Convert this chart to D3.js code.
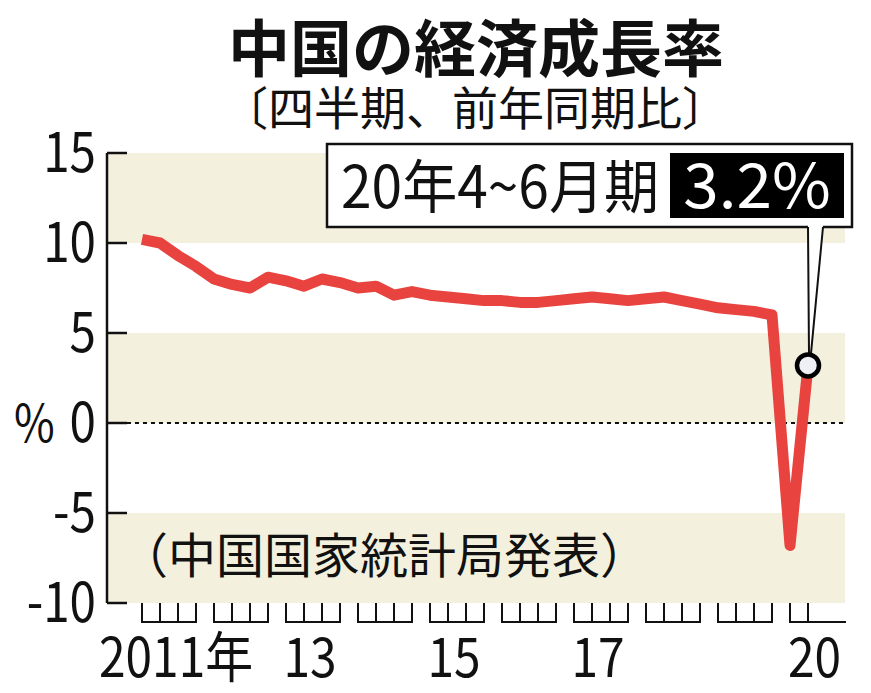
<!DOCTYPE html>
<html><head><meta charset="utf-8">
<script src="https://cdn.jsdelivr.net/npm/d3@7"></script>
<style>html,body{margin:0;padding:0;background:#fff;}svg{display:block;}</style>
</head><body>
<svg id="c" width="871" height="693"></svg>
<script>
// ---- data ----
const years = [2011, 2012, 2013, 2014, 2015, 2016, 2017, 2018, 2019, 2020];
const quarters = years.flatMap(y => (y === 2020 ? [1, 2] : [1, 2, 3, 4]).map(q => y + "Q" + q));
const growth = [10.2, 10.0, 9.3, 8.7, 8.0, 7.7, 7.5, 8.1, 7.9, 7.6, 8.0, 7.8,
  7.5, 7.6, 7.1, 7.3, 7.1, 7.0, 6.9, 6.8, 6.8, 6.7, 6.7, 6.8,
  6.9, 7.0, 6.9, 6.8, 6.9, 7.0, 6.8, 6.6, 6.4, 6.3, 6.2, 6.0, -6.8, 3.2];
const yTicks = [15, 10, 5, 0, -5, -10];
const yTickLabels = ["15", "10", "5", "0", "-5", "-10"];
const xLabelYears = [2011, 2013, 2015, 2017, 2020];
const xLabels = ["2011年", "13", "15", "17", "20"];
const bands = [[10, 15], [0, 5], [-10, -5]];
const title = "中国の経済成長率";
const subtitle = "〔四半期、前年同期比〕";
const source = "（中国国家統計局発表）";
const calloutLabel = "20年4~6月期";
const calloutValue = "3.2%";

// ---- layout ----
const FONT = "'Noto Sans CJK JP', sans-serif";
const svg = d3.select("#c");
const x = d3.scalePoint().domain(quarters).range([142, 808]);
const y = d3.scaleLinear().domain([-10, 15]).range([603, 153]);
const plotL = 108, plotR = 845, axisX = 107;

// bands
svg.append("g").selectAll("rect").data(bands).join("rect")
  .attr("x", plotL).attr("width", plotR - plotL)
  .attr("y", d => y(d[1])).attr("height", d => y(d[0]) - y(d[1]))
  .attr("fill", "#f3f1de");

// zero line
svg.append("line").attr("x1", 127).attr("x2", plotR)
  .attr("y1", y(0)).attr("y2", y(0))
  .attr("stroke", "#111").attr("stroke-width", 2).attr("stroke-dasharray", "4,4");

// y axis
svg.append("line").attr("x1", axisX).attr("x2", axisX).attr("y1", y(15)).attr("y2", y(-10))
  .attr("stroke", "#111").attr("stroke-width", 2.5);
svg.append("g").selectAll("line").data(yTicks).join("line")
  .attr("x1", axisX).attr("x2", 127).attr("y1", d => y(d)).attr("y2", d => y(d))
  .attr("stroke", "#111").attr("stroke-width", 2.5);

function stext(g, str, tx, ty, size, sx, anchor, opts = {}) {
  return g.append("text").text(str)
    .attr("transform", `translate(${tx},${ty}) scale(${sx},1)`)
    .attr("text-anchor", anchor)
    .attr("font-family", FONT).attr("font-size", size)
    .attr("font-weight", opts.weight || 400)
    .attr("fill", opts.fill || "#111");
}

yTicks.forEach((t, i) => stext(svg, yTickLabels[i], 96, y(t) + 19, 56, 0.85, "end"));
stext(svg, "%", 14, y(0) + 19, 52, 0.85, "start");

// x axis tick groups
const tickTop = 603, tickBot = 622;
years.forEach(yr => {
  const qs = quarters.filter(q => q.startsWith(String(yr)));
  const xs = qs.map(q => x(q));
  const x0 = xs[0], x1 = yr === 2020 ? plotR : xs[xs.length - 1];
  const g = svg.append("g").attr("stroke", "#111").attr("stroke-width", 2);
  g.append("line").attr("x1", x0 - 1).attr("x2", x1 + 1).attr("y1", tickBot).attr("y2", tickBot);
  xs.forEach(v => g.append("line").attr("x1", v).attr("x2", v).attr("y1", tickTop).attr("y2", tickBot));
});
xLabelYears.forEach((yr, i) => {
  const qs = quarters.filter(q => q.startsWith(String(yr)));
  const a = x(qs[0]);
  const b = yr === 2020 ? plotR : x(qs[qs.length - 1]);
  if (i === 0) stext(svg, xLabels[i], 99, 677, 55, 0.87, "start");
  else stext(svg, xLabels[i], (a + b) / 2 - 3, 677, 55, 0.87, "middle");
});

// source note
svg.append("text").text(source).attr("x", 120).attr("y", 573)
  .attr("font-family", FONT).attr("font-size", 48).attr("fill", "#111");

// data line
const line = d3.line().x((d, i) => x(quarters[i])).y(d => y(d));
svg.append("path").datum(growth).attr("d", line)
  .attr("fill", "none").attr("stroke", "#e8433f").attr("stroke-width", 11)
  .attr("stroke-linejoin", "round").attr("stroke-linecap", "butt");

// callout
const last = growth.length - 1;
const cx = x(quarters[last]), cy = y(growth[last]);
const box = {x0: 327, x1: 852, y0: 144, y1: 227};
svg.append("rect").attr("x", box.x0).attr("y", box.y0)
  .attr("width", box.x1 - box.x0).attr("height", box.y1 - box.y0)
  .attr("fill", "#fff").attr("stroke", "#111").attr("stroke-width", 2.5);
const tipY = cy - 12;
svg.append("path").attr("d", `M808,${box.y1 - 2} L823,${box.y1 - 2} L${cx + 2},${tipY} Z`)
  .attr("fill", "#fff").attr("stroke", "none");
svg.append("path").attr("d", `M808,${box.y1} L${cx + 1},${tipY} M823,${box.y1} L${cx + 3},${tipY}`)
  .attr("fill", "none").attr("stroke", "#111").attr("stroke-width", 2);
svg.append("rect").attr("x", 670).attr("y", 153).attr("width", 174).attr("height", 65).attr("fill", "#000");
stext(svg, calloutLabel, 341, 208, 58, 0.95, "start");
stext(svg, calloutValue, 757, 208, 62, 1.03, "middle", {fill: "#fff"});

svg.append("circle").attr("cx", cx).attr("cy", cy).attr("r", 11)
  .attr("fill", "#eef0f6").attr("stroke", "#000").attr("stroke-width", 4.5);

// titles
svg.append("text").text(title).attr("x", 476).attr("y", 72).attr("text-anchor", "middle")
  .attr("font-family", FONT).attr("font-size", 62).attr("font-weight", 700).attr("fill", "#111");
svg.append("text").text(subtitle).attr("x", 475).attr("y", 125).attr("text-anchor", "middle")
  .attr("font-family", FONT).attr("font-size", 46).attr("fill", "#111");
</script>
</body></html>
